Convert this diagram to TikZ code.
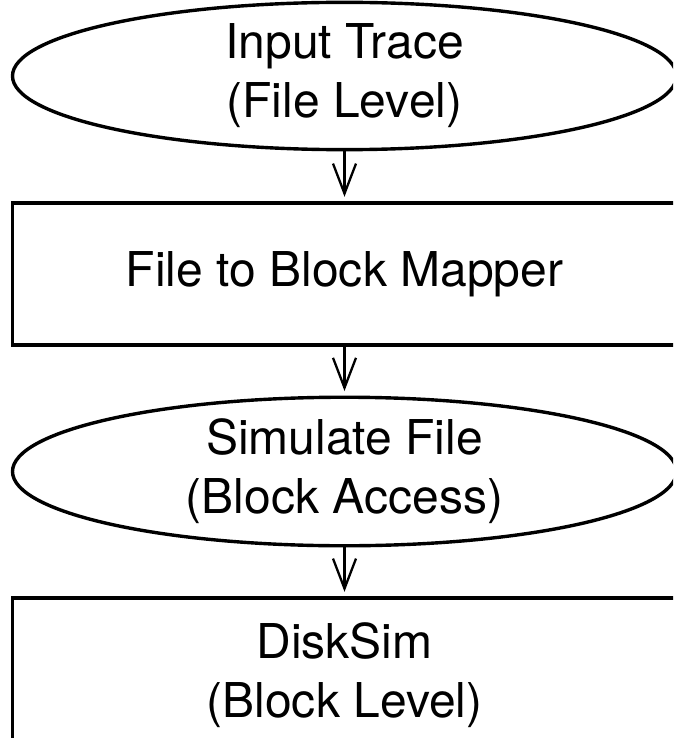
\documentclass[tikz,border=0pt]{standalone}
\usepackage{fontspec}
\setmainfont{TeX Gyre Heros}
\usetikzlibrary{shapes.geometric,arrows.meta}

\tikzset{
  stage/.style={draw=black, line width=3.4pt, ellipse, inner sep=0pt,
    minimum width=664pt, minimum height=141pt, align=center,
    font=\fontsize{48}{59}\selectfont},
  block/.style={draw=black, line width=3.4pt, rectangle, inner sep=0pt,
    minimum width=664pt, align=center,
    font=\fontsize{48}{59}\selectfont},
  flow/.style={line width=2.3pt, -{Straight Barb[length=30pt,width=23pt]},
    shorten >=4.5pt}
}

\begin{document}
\begin{tikzpicture}[x=1pt, y=-1pt]
  \useasboundingbox (0,0) rectangle (673,738);
  \clip (0,0) rectangle (673,738);

  % pipeline stages
  \node[stage] (trace) at (344.5,76) {Input Trace\\(File Level)};
  \node[block, minimum height=142pt] (mapper) at (344.5,274) {File to Block Mapper};
  \node[stage] (sim) at (344.5,471.5) {Simulate File\\(Block Access)};
  \node[block, minimum height=154pt] (disksim) at (344.5,675) {DiskSim\\(Block Level)};

  % connectors between stages
  \draw[flow] (trace.south) -- (mapper.north);
  \draw[flow] (mapper.south) -- (sim.north);
  \draw[flow] (sim.south) -- (disksim.north);
\end{tikzpicture}
\end{document}
